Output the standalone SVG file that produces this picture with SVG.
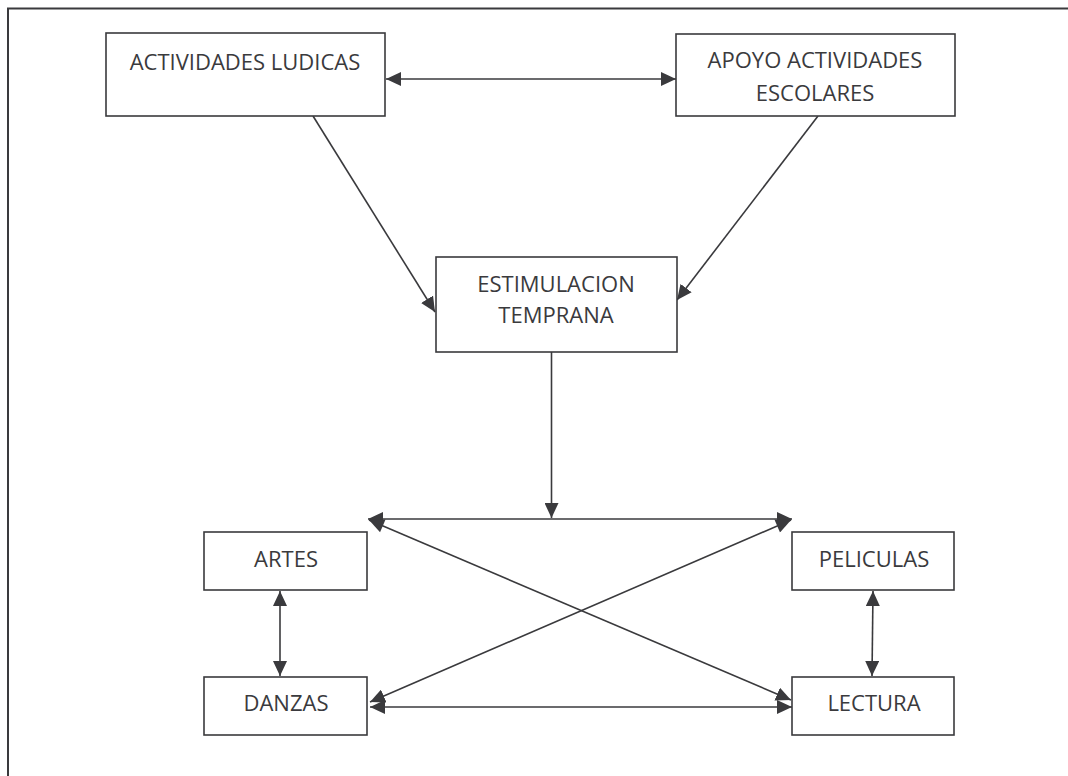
<svg xmlns="http://www.w3.org/2000/svg" width="1068" height="776" viewBox="0 0 1068 776">
<style>
.box{fill:#fff;stroke:#3a3a3d;stroke-width:1.6}
.lbl{font-family:"Open Sans","Noto Sans",sans-serif;font-size:22px;fill:#3a3a3d;text-anchor:middle}
.con{stroke:#3a3a3d;stroke-width:1.6;fill:none;marker-end:url(#ah)}
.dbl{marker-start:url(#ahs)}
</style>
<defs>
<marker id="ah" markerUnits="userSpaceOnUse" markerWidth="16" markerHeight="14" refX="15" refY="7" orient="auto"><path d="M0,0 L15,7 L0,14 Z" fill="#3a3a3d"/></marker>
<marker id="ahs" markerUnits="userSpaceOnUse" markerWidth="16" markerHeight="14" refX="0" refY="7" orient="auto"><path d="M15,0 L0,7 L15,14 Z" fill="#3a3a3d"/></marker>
</defs>
<rect x="8" y="8.5" width="1100" height="800" fill="none" stroke="#3a3a3d" stroke-width="2"/>
<g id="connectors">
<line class="con dbl" x1="386" y1="79" x2="676" y2="79"/>
<line class="con" x1="313" y1="116" x2="435" y2="312"/>
<line class="con" x1="818" y1="116" x2="677" y2="300"/>
<line class="con" x1="551.5" y1="352" x2="551.5" y2="518"/>
<line class="con dbl" x1="368" y1="519" x2="792" y2="519"/>
<line class="con dbl" x1="369" y1="520" x2="791" y2="700"/>
<line class="con dbl" x1="791" y1="520" x2="370" y2="702"/>
<line class="con dbl" x1="370" y1="707" x2="792" y2="707"/>
<line class="con dbl" x1="280" y1="591" x2="280" y2="676"/>
<line class="con dbl" x1="873" y1="591" x2="872" y2="676"/>
</g>
<g id="n1"><rect class="box" x="106" y="33" width="279" height="83"/><text class="lbl" x="245" y="70">ACTIVIDADES LUDICAS</text></g>
<g id="n2"><rect class="box" x="676" y="34" width="279" height="82"/><text class="lbl" x="815" y="68">APOYO ACTIVIDADES</text><text class="lbl" x="815" y="101">ESCOLARES</text></g>
<g id="n3"><rect class="box" x="436" y="257" width="241" height="95"/><text class="lbl" x="556" y="292">ESTIMULACION</text><text class="lbl" x="556" y="323">TEMPRANA</text></g>
<g id="n4"><rect class="box" x="204" y="532" width="163" height="58"/><text class="lbl" x="286" y="567">ARTES</text></g>
<g id="n5"><rect class="box" x="204" y="677" width="163" height="58"/><text class="lbl" x="286" y="711">DANZAS</text></g>
<g id="n6"><rect class="box" x="792" y="532" width="162" height="58"/><text class="lbl" x="874" y="567">PELICULAS</text></g>
<g id="n7"><rect class="box" x="792" y="677" width="162" height="58"/><text class="lbl" x="874" y="711">LECTURA</text></g>
</svg>
